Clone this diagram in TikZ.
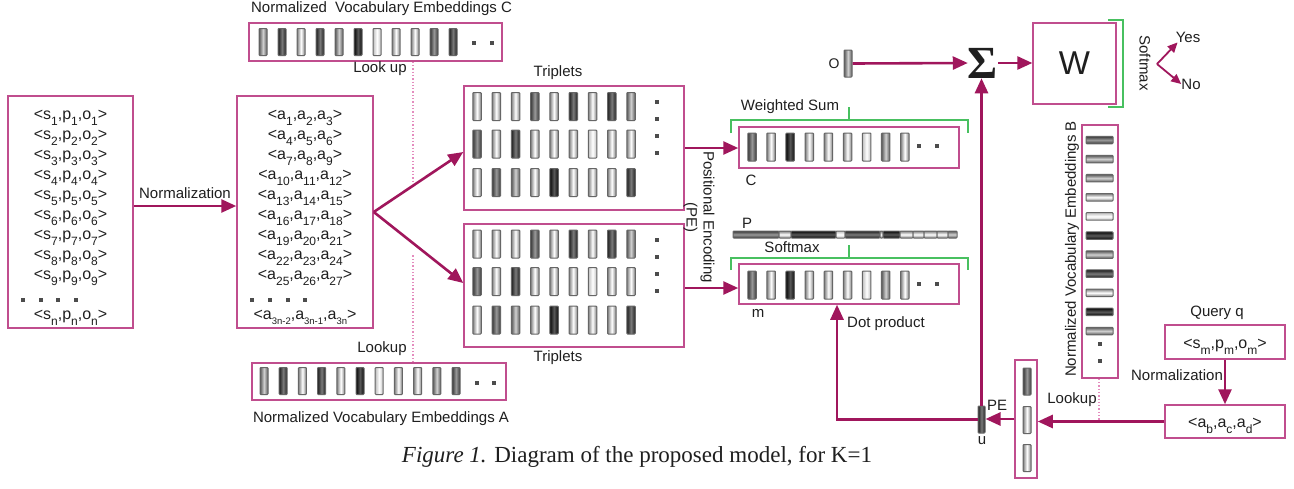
\documentclass[tikz,border=0pt]{standalone}
\usepackage{fontspec}
\setmainfont{Liberation Sans}
\newfontfamily\capfont{Liberation Serif}
\usetikzlibrary{arrows.meta,calc}

\definecolor{boxpink}{RGB}{192,78,142}
\definecolor{arrowmag}{RGB}{160,22,92}
\definecolor{brgreen}{RGB}{72,192,96}
\definecolor{dotpink}{RGB}{228,140,190}

% embedding cell shades: edge colour and centre colour
\colorlet{edgeW}{black!25}\colorlet{midW}{white}
\colorlet{edgeL}{black!50}\colorlet{midL}{white}
\colorlet{edgeM}{black!65}\colorlet{midM}{black!18}
\colorlet{edgeN}{black!78}\colorlet{midN}{black!40}
\colorlet{edgeD}{black!88}\colorlet{midD}{black!52}
\colorlet{edgeK}{black!97}\colorlet{midK}{black!65}

\newcommand{\lowsub}[1]{\raisebox{-6pt}{\fontsize{12}{12}\selectfont #1}}
\newcommand{\tinysub}[1]{\raisebox{-5pt}{\fontsize{9.5}{9.5}\selectfont #1}}

\begin{document}
\begin{tikzpicture}[x=1pt,y=-1pt,
  every node/.style={text=black!88},
  lbl/.style={font=\fontsize{15}{17}\selectfont, inner sep=0pt},
  tri/.style={font=\fontsize{16}{17}\selectfont, inner sep=0pt, anchor=base},
  frame/.style 2 args={draw=boxpink, line width=1.5pt, minimum width=#1, minimum height=#2, inner sep=0pt},
  arr/.style={draw=arrowmag, line width=2.6pt, -{Triangle[length=15pt,width=13pt]}},
  sarr/.style={draw=arrowmag, line width=1.8pt, -{Triangle[length=10pt,width=9pt]}},
  brk/.style={draw=brgreen, line width=1.4pt},
  dotl/.style={draw=dotpink, line width=1.3pt, dotted},
  vbar/.style={draw=black!60, line width=1pt, rounded corners=0.8pt, left color=edge#1, right color=edge#1, middle color=mid#1, inner sep=0pt},
  hbar/.style={draw=black!60, line width=1pt, rounded corners=0.8pt, top color=edge#1, bottom color=edge#1, middle color=mid#1, inner sep=0pt},
  sq/.style={fill=black!70, minimum size=4pt, inner sep=0pt},
]
\fill[white] (0,0) rectangle (1294,488);
\useasboundingbox (0,0) rectangle (1294,488);

% ---------- raw triples ----------
\node[frame={125pt}{232pt}] (raw) at (70.5,212) {};
\foreach \i in {1,...,9}
  \node[tri] (raw\i) at (70.5,{99+20*\i}) {<s\lowsub{\i},p\lowsub{\i},o\lowsub{\i}>};
\foreach \k/\xx in {1/23,2/41,3/58,4/76} \node[sq] (rawdot\k) at (\xx,300) {};
\node[tri] (rawn) at (70.5,319) {<s\lowsub{n},p\lowsub{n},o\lowsub{n}>};

% ---------- normalized triples ----------
\node[frame={136pt}{232pt}] (norm) at (305,212) {};
\foreach \i [evaluate=\i as \ia using int(3*\i-2), evaluate=\i as \ib using int(3*\i-1), evaluate=\i as \ic using int(3*\i)] in {1,...,9}
  \node[tri] (norm\i) at (305,{99+20*\i}) {<a\lowsub{\ia},a\lowsub{\ib},a\lowsub{\ic}>};
\foreach \k/\xx in {1/252,2/270,3/288,4/305} \node[sq] (normdot\k) at (\xx,300) {};
\node[tri] (normn) at (305,319) {<a\tinysub{3n-2},a\tinysub{3n-1},a\tinysub{3n}>};

\draw[arr] ([yshift=6pt]raw.east) -- ([yshift=6pt]norm.west)
  node[midway, above=6pt, lbl] (normlbl) {Normalization};

% ---------- vocabulary embeddings C ----------
\node[lbl] (embClbl) at (381.5,9) {Normalized\hspace{4pt} Vocabulary Embeddings C};
\node[frame={253pt}{38pt}] (embC) at (375.5,42) {};
\foreach \s [count=\i] in {M,D,L,D,M,K,W,L,L,N,D}
  \node[vbar=\s, minimum width=8pt, minimum height=27pt] (eC\i) at ({263+19*(\i-1)},42) {};
\node[sq] (eCd1) at (474,43) {};
\node[sq] (eCd2) at (492,43) {};
\node[lbl] (lookC) at (380,69) {Look up};

% ---------- vocabulary embeddings A ----------
\node[frame={254pt}{37pt}] (embA) at (379,381.5) {};
\foreach \s [count=\i] in {M,D,L,D,L,K,W,L,L,M,N}
  \node[vbar=\s, minimum width=8pt, minimum height=27pt] (eA\i) at ({264+19.2*(\i-1)},381) {};
\node[sq] (eAd1) at (477,383) {};
\node[sq] (eAd2) at (494,383) {};
\node[lbl] (embAlbl) at (381,419) {Normalized Vocabulary Embeddings A};
\node[lbl] (lookA) at (382,349) {Lookup};

\draw[dotl] ([xshift=37.5pt]embC.south) -- ++(0,119);
\draw[dotl] ([xshift=34pt]embA.north) -- ++(0,-108);

% ---------- embedded triplets ----------
\node[frame={220pt}{124pt}] (tripT) at (574,148) {};
\node[frame={220pt}{123pt}] (tripB) at (574,285.5) {};
\node[lbl] (tripTlbl) at (558,73) {Triplets};
\node[lbl] (tripBlbl) at (558,358) {Triplets};
\foreach \bx/\yo in {T/0,B/137.5}{
  \foreach \s [count=\j] in {L,L,L,N,L,D,L,D,M}
    \node[vbar=\s, minimum width=8.5pt, minimum height=28pt] (t\bx a\j) at ({477+19.25*(\j-1)},{106.5+\yo}) {};
  \foreach \s [count=\j] in {N,L,D,L,L,L,W,L,L}
    \node[vbar=\s, minimum width=8.5pt, minimum height=28pt] (t\bx b\j) at ({477+19.25*(\j-1)},{144+\yo}) {};
  \foreach \s [count=\j] in {L,N,M,L,K,L,L,L,D}
    \node[vbar=\s, minimum width=8.5pt, minimum height=28pt] (t\bx c\j) at ({477+19.25*(\j-1)},{182.5+\yo}) {};
  \foreach \k/\yy in {1/102,2/119,3/136,4/153}
    \node[sq] (t\bx d\k) at (657,{\yy+\yo}) {};
}
\draw[arr] (norm.east) -- ([yshift=-4pt]tripT.west);
\draw[arr] (norm.east) -- ([yshift=2.5pt]tripB.west);

% ---------- memory vectors C and m ----------
\node[frame={220pt}{41pt}] (boxC) at (849,147.5) {};
\node[frame={220pt}{40pt}] (boxM) at (849,284) {};
\foreach \s [count=\j] in {N,L,K,L,L,L,W,M,L}{
  \node[vbar=\s, minimum width=8.5pt, minimum height=28pt] (mc\j) at ({752+19.1*(\j-1)},147) {};
  \node[vbar=\s, minimum width=8.5pt, minimum height=28pt] (mm\j) at ({752+19.1*(\j-1)},285) {};
}
\node[sq] (mcd1) at (919,146) {};
\node[sq] (mcd2) at (937,146) {};
\node[sq] (mmd1) at (919,284) {};
\node[sq] (mmd2) at (937,284) {};
\node[lbl] (clbl) at (751,180) {C};
\node[lbl] (mlbl) at (758,313) {m};
\node[lbl] (wsum) at (790,107) {Weighted Sum};
\draw[brk] (731,133) -- (731,120) -- (968,120) -- (968,133) (849,120) -- (849,107);
\node[lbl] (smlbl) at (792,247) {Softmax};
\draw[brk] (731,270) -- (731,258) -- (968,258) -- (968,270) (849,258) -- (849,245);

% attention weights P
\foreach \a/\b/\s in {733/779/N, 779/791/L, 791/836/K, 836/845/W, 845/880/D, 880/883/L,
                      883/900/K, 900/913/L, 913/924/L, 924/937/L, 937/948/L, 948/957/M}
  \path[hbar=\s] (\a,231) rectangle (\b,238);
\node[lbl] (plbl) at (747,223) {P};

\draw[arr] (tripT.east) -- (tripT.east -| boxC.west);
\draw[arr] ([yshift=-2.5pt]tripB.east) -- ([yshift=-2.5pt]tripB.east -| boxM.west);
\node[lbl, rotate=-90, align=center] (pe) at (699,217) {Positional Encoding\\(PE)};

% ---------- output, sum and answer ----------
\node[vbar=M, minimum width=8pt, minimum height=27pt] (obar) at (848,63.5) {};
\node[lbl, font=\fontsize{14}{14}\selectfont] (olbl) at (834,64) {O};
\node[inner sep=0pt] (sig) at (983,63) {\fontsize{46}{46}\selectfont\capfont\bfseries Σ};
\draw[arr] (obar.east) -- (sig.west);
\node[frame={83pt}{81pt}, line width=1.3pt] (W) at (1074.5,63.5) {\fontsize{33}{33}\selectfont W};
\draw[arr] (sig.east) -- (sig.east -| W.west);
\draw[brk] (1108,20) -- (1123,20) -- (1123,107) -- (1108,107);
\node[lbl, rotate=-90] (smW) at (1145,63) {Softmax};
\coordinate (fork) at (1157,64);
\node[lbl] (yes) at (1188,37) {Yes};
\node[lbl] (no) at (1191,84) {No};
\draw[sarr] (fork) -- ([xshift=2pt]yes.south west);
\draw[sarr] (fork) -- (no.west);

% ---------- vocabulary embeddings B ----------
\node[frame={36pt}{253pt}] (embB) at (1100,251.5) {};
\foreach \s [count=\k] in {N,M,M,L,W,K,M,D,L,K,M}
  \node[hbar=\s, minimum width=27pt, minimum height=7.5pt] (eB\k) at (1099.5,{140+19.1*(\k-1)}) {};
\node[sq] (eBd1) at (1100,344) {};
\node[sq] (eBd2) at (1100,361) {};
\node[lbl, rotate=90] (embBlbl) at (1072,249) {Normalized Vocabulary Embeddings B};
\draw[dotl] ([xshift=-1pt]embB.south) -- ++(0,44);

% ---------- query ----------
\node[lbl] (qlbl) at (1217,313) {Query q};
\node[frame={120pt}{34pt}] (query) at (1225,342) {};
\node[tri] (qtxt) at (1225,348) {<s\lowsub{m},p\lowsub{m},o\lowsub{m}>};
\node[frame={120pt}{33pt}] (abcd) at (1225,421.5) {};
\node[tri] (abtxt) at (1225,427) {<a\lowsub{b},a\lowsub{c},a\lowsub{d}>};
\draw[arr] (query.south) -- (abcd.north);
\node[lbl] (qnorm) at (1177,375) {Normalization};

% looked-up query embeddings
\node[frame={22pt}{118pt}] (stack) at (1026,419) {};
\foreach \s/\yy [count=\k] in {N/381.5, L/420, L/458}
  \node[vbar=\s, minimum width=8pt, minimum height=27pt] (st\k) at (1027,\yy) {};
\draw[arr] (abcd.west) -- (abcd.west -| stack.east);
\node[lbl] (lkB) at (1072,400) {Lookup};

% query vector u
\node[vbar=D, minimum width=7pt, minimum height=27pt] (ubar) at (981.5,419.5) {};
\node[lbl] (ulbl) at (982,441) {u};
\node[lbl] (pelbl) at (997,405) {PE};
\draw[arr] (stack.west) -- (stack.west -| ubar.east);
\draw[arr] (ubar.north) -- (ubar.north |- sig.south);
\draw[arr] (ubar.west) -| ([xshift=-12pt]boxM.south);
\node[lbl] (dotp) at (886,324) {Dot product};

% ---------- caption ----------
\node[font=\capfont\fontsize{23}{23}\selectfont, inner sep=0pt] (cap) at (637,457)
  {\textit{Figure 1.} Diagram of the proposed model, for K=1};
\end{tikzpicture}
\end{document}
